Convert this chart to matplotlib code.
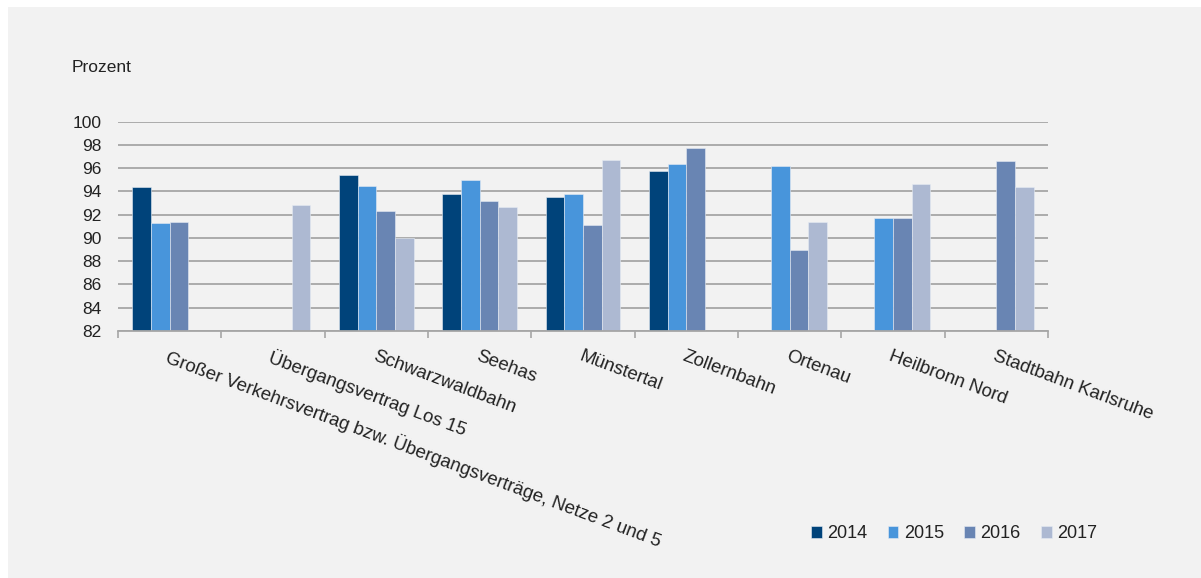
import numpy as np
import matplotlib
matplotlib.use("Agg")
import matplotlib.pyplot as plt
from matplotlib.patches import Rectangle

plt.rcParams['font.family'] = ['Liberation Sans', 'DejaVu Sans']

categories = [
    "Großer Verkehrsvertrag bzw. Übergangsverträge, Netze 2 und 5",
    "Übergangsvertrag Los 15",
    "Schwarzwaldbahn",
    "Seehas",
    "Münstertal",
    "Zollernbahn",
    "Ortenau",
    "Heilbronn Nord",
    "Stadtbahn Karlsruhe",
]
years = ["2014", "2015", "2016", "2017"]
v2014 = [94.4, None, 95.4, 93.8, 93.5, 95.8, None, None, None]
v2015 = [91.3, None, 94.5, 95.0, 93.8, 96.4, 96.2, 91.7, None]
v2016 = [91.4, None, 92.3, 93.2, 91.1, 97.7, 89.0, 91.7, 96.6]
v2017 = [None, 92.8, 90.0, 92.7, 96.7, None, 91.4, 94.6, 94.4]
series = [v2014, v2015, v2016, v2017]
colors = ["#00437a", "#4895db", "#6985b3", "#adb9d2"]
yticks = list(range(82, 101, 2))

W, H = 1201, 578
fig = plt.figure(figsize=(W / 100, H / 100), dpi=100)
fig.patch.set_facecolor("white")
bg = Rectangle((8 / W, -0.05), 1.0, 1.05 - 7 / H, transform=fig.transFigure,
               facecolor="#f2f2f2", edgecolor="none", zorder=-10)
fig.patches.append(bg)

ax = fig.add_axes([118 / W, 1 - 331 / H, (1048 - 118) / W, (331 - 121.7) / H])
ax.set_facecolor("none")
ax.set_zorder(5)

x = np.arange(len(categories))
bw = 0.18
for i, (vals, c, yr) in enumerate(zip(series, colors, years)):
    h = np.array([np.nan if v is None else v - 82 for v in vals], dtype=float)
    ax.bar(x + (i - 1.5) * bw, h, bottom=82, width=bw, color=c, edgecolor="#e6ebf3",
           linewidth=0.4, label=yr, zorder=3)

ax.set_ylim(82, 100)
ax.set_xlim(-0.5, len(categories) - 0.5)
ax.set_yticks(yticks)
ax.yaxis.grid(True, color="#a6a6a6", linewidth=1.3, zorder=1)
ax.set_axisbelow(True)
for s in ["top", "right", "left"]:
    ax.spines[s].set_visible(False)
ax.spines["bottom"].set_color("#a6a6a6")
ax.spines["bottom"].set_linewidth(1.3)
ax.spines["bottom"].set_zorder(4)

ax.set_xticks(x)
ax.set_xticklabels(categories, rotation=-20.5, ha="left", va="top", rotation_mode="anchor")
ax.set_xticks(np.arange(-0.5, len(categories), 1.0), minor=True)
ax.tick_params(axis="x", which="major", length=0, pad=12, labelsize=13.4, labelcolor="#222222")
ax.tick_params(axis="x", which="minor", length=5, width=1.2, color="#a6a6a6")
ax.tick_params(axis="y", length=0, pad=12, labelsize=12.5, labelcolor="#222222")

fig.text(72 / W, 1 - 67 / H, "Prozent", fontsize=12.5, color="#222222", ha="left", va="center")

fig.legend(loc="center left", bbox_to_anchor=(811 / W, 1 - 534 / H), ncol=4, frameon=False,
           fontsize=13, handlelength=0.6, handleheight=0.6, handletextpad=0.3,
           columnspacing=1.12, borderaxespad=0, borderpad=0, labelcolor="#222222")

fig.savefig("out.png", dpi=100)
